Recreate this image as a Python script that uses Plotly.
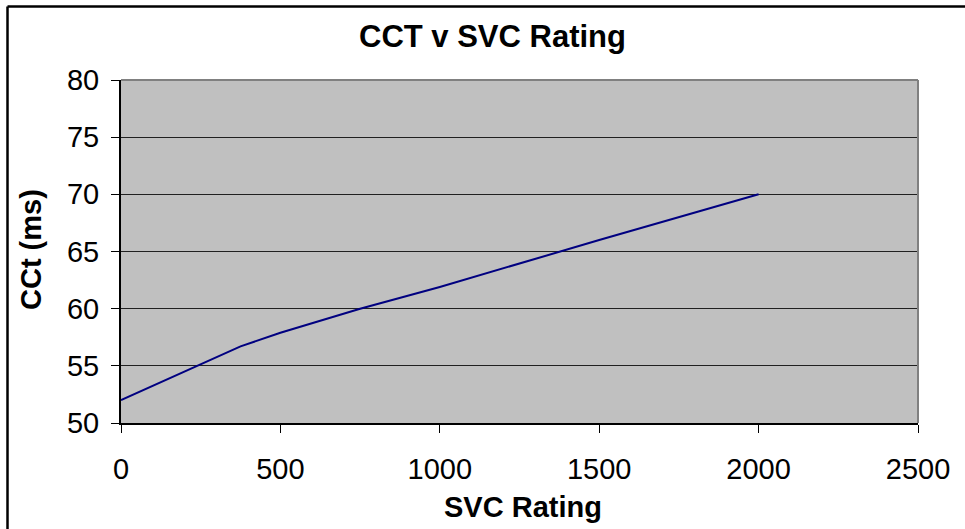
import plotly.graph_objects as go

svc_rating = [0, 250, 375, 500, 750, 1000, 1500, 2000]
cct_ms = [52, 55.1, 56.7, 57.9, 60, 61.9, 66, 70]

x_ticks = [0, 500, 1000, 1500, 2000, 2500]
y_ticks = [50, 55, 60, 65, 70, 75, 80]

W, H = 965, 529
L, R, T, B = 121, 47, 80, 106
pw, ph = W - L - R, H - T - B

def px(xp):
    return (xp - L) / pw

def py(yp):
    return (H - B - yp) / ph

fig = go.Figure()
fig.add_trace(go.Scatter(x=svc_rating, y=cct_ms, mode="lines",
                         line=dict(color="#000080", width=2), showlegend=False))

font = "Liberation Sans, Arial, sans-serif"
fig.update_layout(
    width=W, height=H,
    margin=dict(l=L, r=R, t=T, b=B),
    paper_bgcolor="white",
    plot_bgcolor="#C0C0C0",
    font=dict(family=font, color="black", size=29),
    xaxis=dict(range=[0, 2500], tickvals=x_ticks, ticks="outside", ticklen=8,
               tickcolor="black", showgrid=False, zeroline=False,
               showline=True, linecolor="black", linewidth=2,
               ticklabelstandoff=11, tickfont=dict(size=29)),
    yaxis=dict(range=[50, 80], tickvals=y_ticks, ticks="outside", ticklen=8,
               tickcolor="black", showgrid=True, gridcolor="#202020", gridwidth=1,
               zeroline=False, showline=True, linecolor="black", linewidth=2,
               ticklabelstandoff=6, tickfont=dict(size=29)),
    annotations=[
        dict(text="<b>CCT v SVC Rating</b>", xref="paper", yref="paper",
             x=px(492.5), y=py(36.5), xanchor="center", yanchor="middle",
             showarrow=False, font=dict(size=31, family=font)),
        dict(text="<b>SVC Rating</b>", xref="paper", yref="paper",
             x=px(523), y=py(507), xanchor="center", yanchor="middle",
             showarrow=False, font=dict(size=29, family=font)),
        dict(text="<b>CCt (ms)</b>", xref="paper", yref="paper",
             x=px(31), y=py(250), xanchor="center", yanchor="middle",
             textangle=-90, showarrow=False, font=dict(size=29, family=font)),
    ],
)

# plot-area border (top/right gray)
fig.add_shape(type="line", xref="paper", yref="paper", x0=0, x1=1, y0=1, y1=1,
              line=dict(color="#808080", width=2))
fig.add_shape(type="line", xref="paper", yref="paper", x0=1, x1=1, y0=0, y1=1,
              line=dict(color="#808080", width=2))

# outer chart frame (left and top visible)
fig.add_shape(type="line", xref="paper", yref="paper",
              x0=px(7.5), x1=px(W + 5), y0=py(6.5), y1=py(6.5),
              line=dict(color="black", width=2.5))
fig.add_shape(type="line", xref="paper", yref="paper",
              x0=px(7.5), x1=px(7.5), y0=py(6.5), y1=py(H + 5),
              line=dict(color="black", width=2.5))

fig.write_html("out.html", config={"displayModeBar": False},
               post_script="document.body.style.margin='0';document.body.style.overflow='hidden';")
